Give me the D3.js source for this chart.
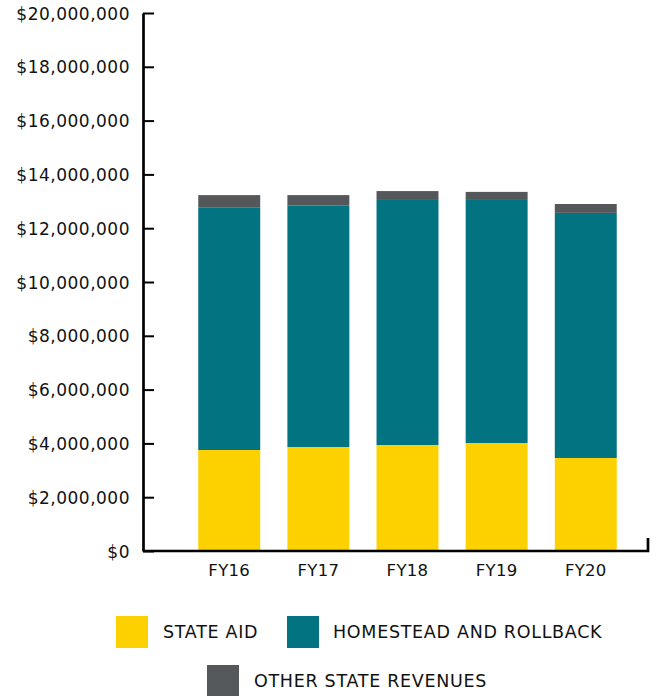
<!DOCTYPE html>
<html>
<head>
<meta charset="utf-8">
<script src="https://cdn.jsdelivr.net/npm/d3@7/dist/d3.min.js"></script>
<style>
  html, body { margin: 0; padding: 0; background: #fff; }
  svg { display: block; }
  text { font-family: "DejaVu Sans", sans-serif; fill: #111; }
</style>
</head>
<body>
<svg id="chart" width="657" height="696"></svg>
<script>
const categories = ["FY16", "FY17", "FY18", "FY19", "FY20"];
const stateAid = [3755000, 3866000, 3940000, 4015000, 3457000];
const homestead = [9005000, 8984000, 9110000, 9035000, 9113000];
const otherRevenues = [470000, 380000, 330000, 300000, 330000];
const seriesNames = ["STATE AID", "HOMESTEAD AND ROLLBACK", "OTHER STATE REVENUES"];
const seriesColors = ["#FDD000", "#027381", "#54585A"];
const yTicks = [0, 2000000, 4000000, 6000000, 8000000, 10000000, 12000000, 14000000, 16000000, 18000000, 20000000];

const table = categories.map((c, i) => ({
  cat: c,
  "STATE AID": stateAid[i],
  "HOMESTEAD AND ROLLBACK": homestead[i],
  "OTHER STATE REVENUES": otherRevenues[i]
}));

const svg = d3.select("#chart");
const axisX = 143, axisRight = 648;
const y = d3.scaleLinear().domain([0, 20000000]).range([551, 13]);
const x = d3.scaleBand().domain(categories).range([143, 672]).paddingInner(0.305).paddingOuter(0.62);
const color = d3.scaleOrdinal().domain(seriesNames).range(seriesColors);

const stacked = d3.stack().keys(seriesNames)(table);

svg.append("g").selectAll("g").data(stacked).join("g")
  .attr("fill", d => color(d.key))
  .selectAll("rect").data(d => d).join("rect")
  .attr("x", d => x(d.data.cat))
  .attr("width", x.bandwidth())
  .attr("y", d => y(d[1]))
  .attr("height", d => y(d[0]) - y(d[1]));

// Y axis
const fmt = v => "$" + d3.format(",")(v);
const yAxis = svg.append("g").attr("transform", `translate(${axisX},0)`)
  .call(d3.axisRight(y).tickValues(yTicks).tickFormat(fmt).tickSize(11).tickSizeOuter(0));
yAxis.select(".domain").attr("stroke", "#000").attr("stroke-width", 2.7);
yAxis.selectAll(".tick line").attr("stroke", "#000").attr("stroke-width", 2);
yAxis.selectAll(".tick text")
  .attr("x", -13).attr("dy", "0.36em").attr("text-anchor", "end")
  .style("font-size", "17px").style("letter-spacing", "0.5px").style("fill", "#111");

// X axis
const xAxis = svg.append("g").attr("transform", `translate(0,551)`);
xAxis.append("path")
  .attr("d", `M${axisX},0H${axisRight}V-13`)
  .attr("fill", "none").attr("stroke", "#000").attr("stroke-width", 2.7);
xAxis.selectAll("text").data(categories).join("text")
  .attr("x", d => x(d) + x.bandwidth() / 2)
  .attr("y", 25)
  .attr("text-anchor", "middle")
  .style("font-size", "16.5px").style("letter-spacing", "0.3px")
  .text(d => d);

// Legend
const legendItems = [
  { name: seriesNames[0], sx: 116, sy: 616, tx: 163 },
  { name: seriesNames[1], sx: 287, sy: 616, tx: 333 },
  { name: seriesNames[2], sx: 207, sy: 665, tx: 254 }
];
const lg = svg.append("g");
legendItems.forEach(it => {
  lg.append("rect").attr("x", it.sx).attr("y", it.sy).attr("width", 32).attr("height", 32)
    .attr("fill", color(it.name));
  lg.append("text").attr("x", it.tx).attr("y", it.sy + 16).attr("dy", "0.36em")
    .style("font-size", "17.5px").style("letter-spacing", "0.7px").style("font-weight", "500")
    .text(it.name);
});
</script>
</body>
</html>
